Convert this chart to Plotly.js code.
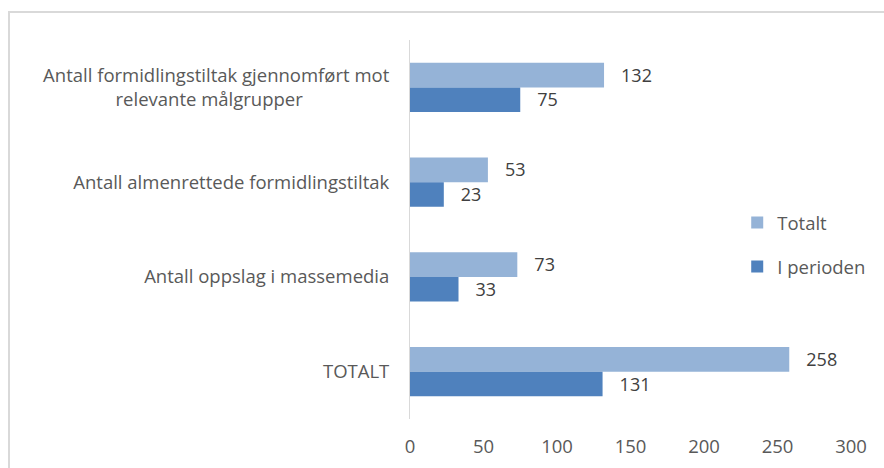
<!DOCTYPE html>
<html>
<head>
<meta charset="utf-8">
<script src="https://cdn.plot.ly/plotly-3.0.1.min.js"></script>
<style>
  body { margin: 0; background: #fff; }
  #frame { position: absolute; left: 8px; top: 11px; width: 940px; height: 520px; border: 2px solid #d9d9d9; }
  #chart { position: absolute; left: 0; top: 0; width: 884px; height: 468px; }
</style>
</head>
<body>
<div id="frame"></div>
<div id="chart"></div>
<script>
// second line padded at the end so it sits roughly centred under the first
var categories = [
  'Antall formidlingstiltak gjennomført mot<br>relevante målgrupper' + '\u00A0'.repeat(18),
  'Antall almenrettede formidlingstiltak',
  'Antall oppslag i massemedia',
  'TOTALT'
];
var totalt = [132, 53, 73, 258];
var iPerioden = [75, 23, 33, 131];
var xTicks = [0, 50, 100, 150, 200, 250, 300];

var pad = '\u00A0\u00A0\u00A0';
var fnt = 'Open Sans';

var trace1 = {
  type: 'bar',
  orientation: 'h',
  y: categories,
  x: totalt,
  name: 'Totalt',
  legendgroup: 'a',
  marker: {color: '#95b3d7'},
  texttemplate: pad + '%{x}',
  textposition: 'outside',
  cliponaxis: false,
  textfont: {family: fnt, size: 19, color: '#404040'},
  hoverinfo: 'none'
};
var trace2 = {
  type: 'bar',
  orientation: 'h',
  y: categories,
  x: iPerioden,
  name: 'I perioden',
  legendgroup: 'b',
  marker: {color: '#4f81bd'},
  texttemplate: pad + '%{x}',
  textposition: 'outside',
  cliponaxis: false,
  textfont: {family: fnt, size: 19, color: '#404040'},
  hoverinfo: 'none'
};

var layout = {
  width: 884,
  height: 468,
  margin: {l: 410, r: 33, t: 40, b: 49},
  paper_bgcolor: 'rgba(0,0,0,0)',
  plot_bgcolor: 'rgba(0,0,0,0)',
  font: {family: fnt, size: 18.5, color: '#595959'},
  barmode: 'group',
  bargap: 0.48,
  bargroupgap: 0,
  showlegend: true,
  legend: {
    x: 0.742, xanchor: 'left',
    y: 0.459, yanchor: 'middle',
    traceorder: 'grouped',
    tracegroupgap: 17,
    font: {family: fnt, size: 18.5, color: '#595959'},
    itemwidth: 30
  },
  xaxis: {
    range: [0, 300],
    tickvals: xTicks,
    automargin: false,
    showgrid: false,
    zeroline: false,
    showline: false,
    ticks: 'outside',
    ticklen: 11,
    tickcolor: 'rgba(0,0,0,0)',
    tickfont: {family: fnt, size: 18.5, color: '#595959'}
  },
  yaxis: {
    autorange: 'reversed',
    automargin: false,
    showgrid: false,
    zeroline: false,
    showline: true,
    linecolor: '#d9d9d9',
    linewidth: 1,
    ticks: 'outside',
    ticklen: 16,
    tickcolor: 'rgba(0,0,0,0)',
    tickfont: {family: fnt, size: 18.5, color: '#595959'}
  }
};

Plotly.newPlot('chart', [trace1, trace2], layout, {displayModeBar: false, staticPlot: true});
</script>
</body>
</html>
